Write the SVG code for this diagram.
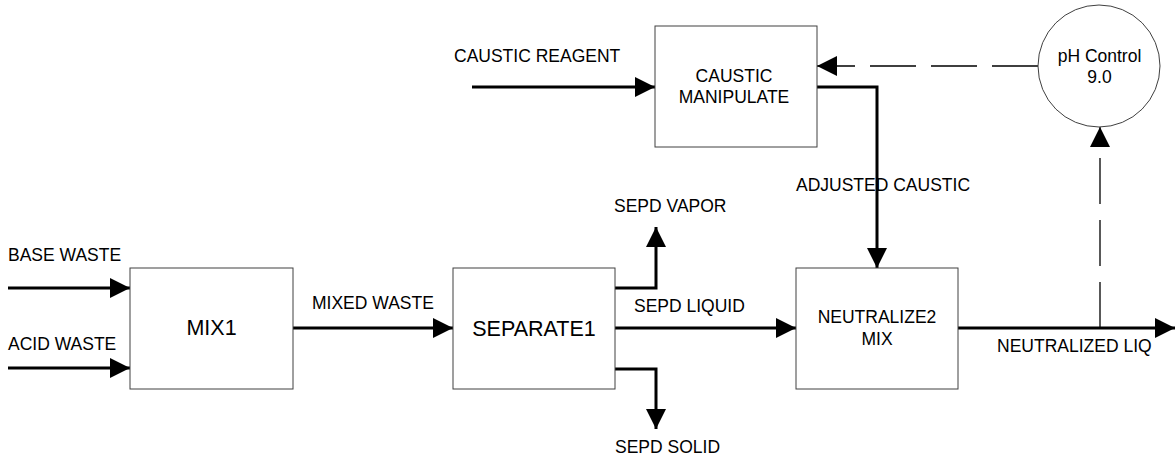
<svg xmlns="http://www.w3.org/2000/svg" width="1175" height="460" viewBox="0 0 1175 460">
<style>
.box{fill:#fff;stroke:#404040;stroke-width:1}
.flow{fill:none;stroke:#000;stroke-width:3}
.sig{fill:none;stroke:#000;stroke-width:1.3}
text{font-family:"Liberation Sans",Arial,sans-serif;font-size:17.5px;fill:#000}
.big{font-size:21.5px}
.c{text-anchor:middle}
</style>
<defs>
<marker id="ah" markerWidth="20" markerHeight="20" refX="20" refY="10" orient="auto" markerUnits="userSpaceOnUse">
<path d="M0,0 L20,10 L0,20 z" fill="#000"/>
</marker>
</defs>
<rect width="1175" height="460" fill="#fff"/>
<g id="connectors">
<path class="flow" d="M8,288 H130" marker-end="url(#ah)"/>
<path class="flow" d="M8,368 H130" marker-end="url(#ah)"/>
<path class="flow" d="M293,328 H453" marker-end="url(#ah)"/>
<path class="flow" d="M615,288 H656 V227" marker-end="url(#ah)"/>
<path class="flow" d="M615,369 H656 V429" marker-end="url(#ah)"/>
<path class="flow" d="M615,328 H796" marker-end="url(#ah)"/>
<path class="flow" d="M472,87 H655" marker-end="url(#ah)"/>
<path class="flow" d="M817,87 H877 V268" marker-end="url(#ah)"/>
<path class="flow" d="M958,328 H1175" marker-end="url(#ah)"/>
<path class="sig" d="M1038,66 H817" stroke-dasharray="46 15" marker-end="url(#ah)"/>
<path class="sig" d="M1100,328 V127" stroke-dasharray="46 16" marker-end="url(#ah)"/>
<text x="8" y="261">BASE WASTE</text>
<text x="8" y="350">ACID WASTE</text>
<text x="312" y="309">MIXED WASTE</text>
<text x="614" y="212">SEPD VAPOR</text>
<text x="634" y="312">SEPD LIQUID</text>
<text x="615" y="453">SEPD SOLID</text>
<text x="454" y="62">CAUSTIC REAGENT</text>
<text x="796" y="191">ADJUSTED CAUSTIC</text>
<text x="997" y="352">NEUTRALIZED LIQ</text>
</g>
<g id="mix1">
<rect class="box" x="130" y="268" width="163" height="121"/>
<text class="big c" x="211.5" y="335">MIX1</text>
</g>
<g id="separate1">
<rect class="box" x="453" y="268" width="162" height="121"/>
<text class="big c" x="534" y="336">SEPARATE1</text>
</g>
<g id="caustic-manipulate">
<rect class="box" x="655" y="26" width="162" height="121"/>
<text class="c" x="734" y="82">CAUSTIC</text>
<text class="c" x="734" y="103">MANIPULATE</text>
</g>
<g id="neutralize2">
<rect class="box" x="796" y="268" width="162" height="121"/>
<text class="c" x="877" y="323">NEUTRALIZE2</text>
<text class="c" x="877" y="345">MIX</text>
</g>
<g id="ph-control">
<circle cx="1099" cy="66" r="61" fill="#fff" stroke="#404040" stroke-width="1"/>
<text class="c" x="1099.5" y="62">pH Control</text>
<text class="c" x="1099.5" y="83">9.0</text>
</g>
</svg>
